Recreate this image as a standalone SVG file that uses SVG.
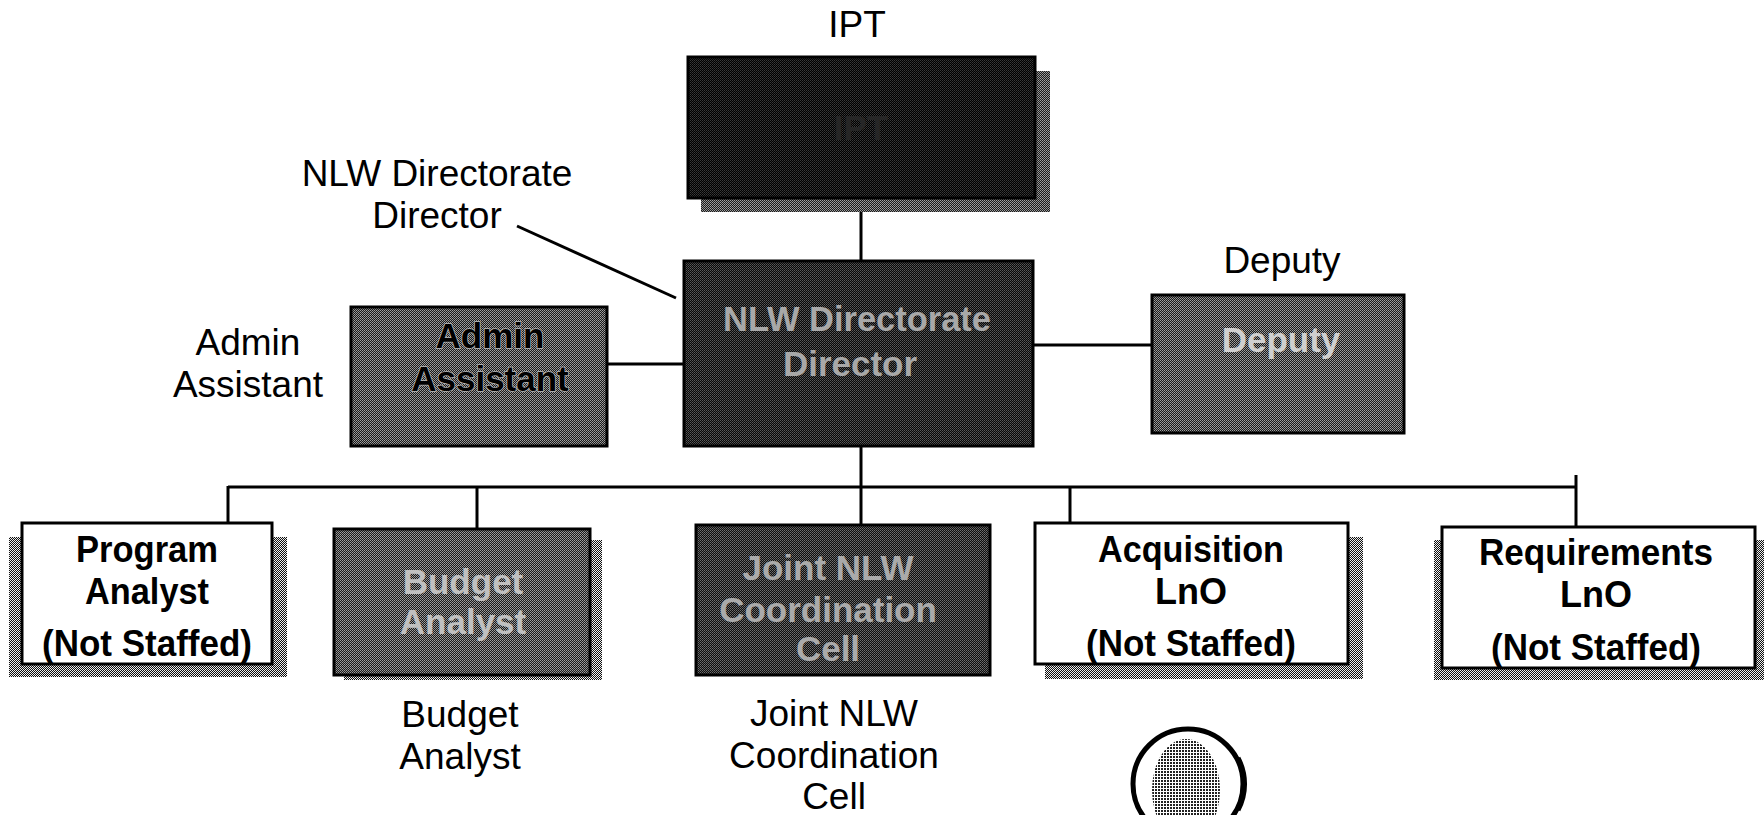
<svg xmlns="http://www.w3.org/2000/svg" width="1764" height="815" viewBox="0 0 1764 815">
<defs>
<pattern id="pIPT" width="2" height="2" patternUnits="userSpaceOnUse"><rect width="2" height="2" fill="#000"/><rect width="1" height="1" fill="#3a3a3a"/><rect x="1" y="1" width="1" height="1" fill="#2a2a2a"/></pattern>
<pattern id="pDir" width="2" height="2" patternUnits="userSpaceOnUse"><rect width="2" height="2" fill="#080808"/><rect width="1" height="1" fill="#5a5a5a"/><rect x="1" y="1" width="1" height="1" fill="#444"/></pattern>
<pattern id="pMid" width="2" height="2" patternUnits="userSpaceOnUse"><rect width="2" height="2" fill="#1a1a1a"/><rect width="1" height="1" fill="#a0a0a0"/><rect x="1" y="1" width="1" height="1" fill="#8a8a8a"/></pattern>
<pattern id="pJoint" width="2" height="2" patternUnits="userSpaceOnUse"><rect width="2" height="2" fill="#0e0e0e"/><rect width="1" height="1" fill="#707070"/><rect x="1" y="1" width="1" height="1" fill="#5a5a5a"/></pattern>
<pattern id="pShadow" width="2" height="2" patternUnits="userSpaceOnUse"><rect width="2" height="2" fill="#111"/><rect width="1" height="1" fill="#eee"/><rect x="1" y="1" width="1" height="1" fill="#eee"/></pattern>
<pattern id="pDot" width="3" height="3" patternUnits="userSpaceOnUse"><rect width="3" height="3" fill="#fff"/><rect width="2" height="2" fill="#222"/></pattern>
</defs>
<style>
.lbl{font-family:"Liberation Sans",Arial,sans-serif;font-size:37px;fill:#000;text-anchor:middle}
.bx{stroke:#000;stroke-width:3}
.wt{font-family:"Liberation Sans",Arial,sans-serif;font-weight:bold;font-size:37px;fill:#000;text-anchor:middle}
.dt{font-family:"Liberation Sans",Arial,sans-serif;font-weight:bold;font-size:35px;text-anchor:middle}
.cn{stroke:#000;stroke-width:3;fill:none}
</style>
<rect width="1764" height="815" fill="#fff"/>

<g id="connectors">
<line class="cn" x1="861" y1="199" x2="861" y2="261"/>
<line class="cn" x1="861" y1="446" x2="861" y2="525"/>
<line class="cn" stroke-width="2" x1="517" y1="226" x2="676" y2="298"/>
<line class="cn" x1="607" y1="364" x2="684" y2="364"/>
<line class="cn" x1="1033" y1="345" x2="1152" y2="345"/>
<line class="cn" x1="228" y1="487" x2="1576" y2="487"/>
<line class="cn" x1="228" y1="486" x2="228" y2="523"/>
<line class="cn" x1="477" y1="486" x2="477" y2="529"/>
<line class="cn" x1="1070" y1="486" x2="1070" y2="523"/>
<line class="cn" x1="1576" y1="475" x2="1576" y2="527"/>
</g>

<g id="ipt">
<text class="lbl" x="857" y="37">IPT</text>
<rect x="701" y="71" width="349" height="141" fill="url(#pMid)"/>
<rect class="bx" x="688" y="57" width="347" height="141" fill="url(#pIPT)"/>
<text class="dt" x="861" y="140" fill="#262626">IPT</text>
</g>

<g id="director">
<text class="lbl" x="437" y="186">NLW Directorate</text>
<text class="lbl" x="437" y="228">Director</text>
<rect class="bx" x="684" y="261" width="349" height="185" fill="url(#pDir)"/>
<text class="dt" x="857" y="331" fill="#a8a8a8" textLength="268" lengthAdjust="spacingAndGlyphs">NLW Directorate</text>
<text class="dt" x="850" y="376" fill="#a8a8a8">Director</text>
</g>

<g id="admin">
<text class="lbl" x="248" y="355">Admin</text>
<text class="lbl" x="248" y="397">Assistant</text>
<rect class="bx" x="351" y="307" width="256" height="139" fill="url(#pMid)"/>
<text class="dt" x="490" y="348" fill="#000" stroke="#bbb" stroke-width="1.5" paint-order="stroke">Admin</text>
<text class="dt" x="490" y="391" fill="#000" stroke="#bbb" stroke-width="1.5" paint-order="stroke">Assistant</text>
</g>

<g id="deputy">
<text class="lbl" x="1282" y="273">Deputy</text>
<rect class="bx" x="1152" y="295" width="252" height="138" fill="url(#pMid)"/>
<text class="dt" x="1281" y="352" fill="#cfcfcf">Deputy</text>
</g>

<g id="program">
<rect x="9" y="537" width="278" height="140" fill="url(#pShadow)"/>
<rect class="bx" x="22" y="523" width="250" height="141" fill="#fff"/>
<text class="wt" x="147" y="562" textLength="142" lengthAdjust="spacingAndGlyphs">Program</text>
<text class="wt" x="147" y="604" textLength="124" lengthAdjust="spacingAndGlyphs">Analyst</text>
<text class="wt" x="147" y="656" textLength="210" lengthAdjust="spacingAndGlyphs">(Not Staffed)</text>
</g>

<g id="budget">
<rect x="344" y="540" width="258" height="140" fill="url(#pShadow)"/>
<rect class="bx" x="334" y="529" width="256" height="146" fill="url(#pMid)"/>
<text class="dt" x="463" y="594" fill="#c0c0c0">Budget</text>
<text class="dt" x="463" y="634" fill="#c0c0c0">Analyst</text>
<text class="lbl" x="460" y="727">Budget</text>
<text class="lbl" x="460" y="769">Analyst</text>
</g>

<g id="joint">
<rect class="bx" x="696" y="525" width="294" height="150" fill="url(#pJoint)"/>
<text class="dt" x="828" y="580" fill="#aaa">Joint NLW</text>
<text class="dt" x="828" y="622" fill="#aaa">Coordination</text>
<text class="dt" x="828" y="661" fill="#aaa">Cell</text>
<text class="lbl" x="834" y="726">Joint NLW</text>
<text class="lbl" x="834" y="768">Coordination</text>
<text class="lbl" x="834" y="809">Cell</text>
</g>

<g id="acquisition">
<rect x="1045" y="537" width="318" height="142" fill="url(#pShadow)"/>
<rect class="bx" x="1035" y="523" width="313" height="141" fill="#fff"/>
<text class="wt" x="1191" y="562" textLength="186" lengthAdjust="spacingAndGlyphs">Acquisition</text>
<text class="wt" x="1191" y="604" textLength="72" lengthAdjust="spacingAndGlyphs">LnO</text>
<text class="wt" x="1191" y="656" textLength="210" lengthAdjust="spacingAndGlyphs">(Not Staffed)</text>
</g>

<g id="requirements">
<rect x="1434" y="540" width="330" height="140" fill="url(#pShadow)"/>
<rect class="bx" x="1442" y="527" width="313" height="141" fill="#fff"/>
<text class="wt" x="1596" y="565" textLength="234" lengthAdjust="spacingAndGlyphs">Requirements</text>
<text class="wt" x="1596" y="607" textLength="72" lengthAdjust="spacingAndGlyphs">LnO</text>
<text class="wt" x="1596" y="660" textLength="210" lengthAdjust="spacingAndGlyphs">(Not Staffed)</text>
</g>

<g id="seal">
<circle cx="1188" cy="784" r="55" fill="#fff" stroke="#000" stroke-width="5"/>
<path d="M1238,758 A55,55 0 0 1 1238,810" fill="none" stroke="#000" stroke-width="5"/>
<ellipse cx="1186" cy="790" rx="34" ry="51" fill="url(#pDot)"/>
</g>
</svg>
